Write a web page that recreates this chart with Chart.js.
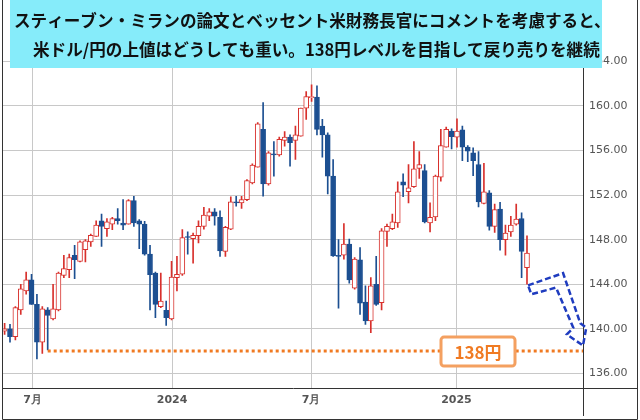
<!DOCTYPE html>
<html>
<head>
<meta charset="utf-8">
<script src="https://cdn.jsdelivr.net/npm/chart.js@4.4.1/dist/chart.umd.min.js"></script>
<style>
  html, body { margin: 0; padding: 0; background: #fff; }
  #wrap { width: 640px; height: 420px; position: relative; }
</style>
</head>
<body>
<div id="wrap"><canvas id="c" width="640" height="420"></canvas></div>
<script>
// === Données (週足 米ドル/円) ===
const opens  = [139.8,140.0,139.3,141.7,143.4,144.4,142.2,138.8,141.7,140.9,141.7,144.8,145.3,146.6,146.05,147.1,147.8,148.3,149.7,149.0,149.4,149.9,149.5,149.4,151.5,149.7,149.4,146.7,145.0,142.0,141.65,140.9,144.6,144.9,148.25,148.1,148.35,149.2,150.1,150.5,150.0,146.95,148.95,151.4,151.3,151.6,153.1,154.5,157.9,153.0,155.7,155.6,156.9,157.2,156.9,157.3,159.8,160.75,160.8,158.2,157.4,153.7,146.6,146.6,147.6,143.65,146.2,142.4,140.7,144.0,142.35,148.75,149.0,149.5,153.2,152.3,152.75,154.4,154.2,149.5,150.05,153.6,156.3,157.75,157.2,157.85,156.3,155.8,154.75,151.25,152.2,149.2,150.75,148.0,148.7,149.4,149.9,145.5];
const highs  = [140.5,140.4,142.0,144.0,145.1,144.9,143.1,142.0,141.9,144.0,145.1,146.6,146.7,147.5,147.9,148.0,148.5,149.7,150.3,149.9,150.0,150.8,151.6,151.6,151.9,149.8,149.65,147.5,145.1,145.0,142.5,146.05,146.5,148.9,148.7,148.6,149.7,150.9,150.8,150.8,150.6,149.2,151.85,151.9,151.9,153.4,154.8,158.5,160.3,155.9,156.8,157.2,157.7,157.4,158.2,159.8,161.3,161.9,161.8,158.8,157.6,155.2,148.0,149.45,148.05,146.4,147.3,143.85,144.6,146.5,149.0,149.4,150.3,153.2,153.9,154.75,156.8,155.9,154.75,151.3,153.8,157.9,158.1,157.95,158.85,158.2,156.45,156.25,155.9,154.85,152.4,151.2,151.35,149.3,150.1,151.2,150.4,148.35];
const lows   = [139.5,138.8,139.0,141.3,143.1,142.2,137.3,137.8,138.1,140.8,141.6,144.6,144.6,144.5,146.0,146.0,147.4,148.3,147.4,148.3,148.9,149.4,148.9,149.4,149.2,147.2,146.6,141.7,141.0,141.9,140.3,140.8,143.4,144.8,146.7,145.9,147.7,148.95,149.7,149.3,146.5,146.5,148.9,151.0,150.8,151.5,153.0,154.5,151.9,152.9,153.7,155.5,156.4,154.6,155.2,157.3,158.8,160.4,157.4,155.4,152.1,146.5,141.85,146.25,144.1,143.55,141.3,140.4,139.65,142.1,141.7,147.4,148.9,149.1,151.85,151.3,152.7,153.5,149.5,148.7,149.7,153.25,156.3,156.15,156.3,155.1,155.0,153.75,150.95,151.2,148.85,148.65,147.05,146.6,148.3,149.3,144.6,144.0];
const closes = [140.0,139.3,141.9,143.6,144.4,142.2,138.8,141.8,141.2,141.8,145.0,145.4,146.4,146.2,147.8,147.9,148.4,149.3,149.2,149.6,149.9,149.7,149.3,151.5,149.5,149.4,146.7,144.85,142.2,142.5,141.0,144.65,144.9,148.2,148.2,148.4,149.2,150.2,150.5,150.1,147.0,149.1,151.4,151.3,151.6,153.3,154.7,158.4,153.0,155.8,155.6,157.0,157.2,156.7,157.4,159.8,160.85,160.8,157.9,157.4,153.7,146.55,146.5,147.6,144.4,146.25,142.3,140.7,143.85,142.2,148.8,149.2,149.6,152.3,152.9,152.65,154.35,154.75,149.6,150.0,153.7,156.45,157.9,157.25,157.75,156.3,155.95,155.1,151.4,152.3,149.2,150.7,148.0,148.6,149.3,149.85,146.95,146.8];

// 目盛り (x は週番号)
const xTickPos    = [5.2, 31.1, 56.9, 83.9];
const xTickLabels = ['7月', '2024', '7月', '2025'];
const yTicks      = [136, 140, 144, 148, 152, 156, 160, 164];
const targetLevel = 138;
const targetStart = 8;
// 予想の矢印 (週番号, 価格)
const arrowPts = [[97.2,143.9],[103.7,145.0],[106.9,140.5],[108.0,140.1],[107.4,138.5],[104.4,139.5],[105.6,140.1],[102.4,143.7],[97.8,143.1]];

const titleLines = [
  'スティーブン・ミランの論文とベッセント米財務長官にコメントを考慮すると、',
  '米ドル/円の上値はどうしても重い。138円レベルを目指して戻り売りを継続'
];

const RED = '#d8302c', BLUE = '#1c4f91';
const up = opens.map((o, i) => closes[i] >= o);

const wicks = opens.map((o, i) => ({ x: i, y: [lows[i], highs[i]] }));
const bodies = opens.map((o, i) => ({ x: i, y: [Math.min(o, closes[i]), Math.max(o, closes[i])] }));

// === Décor: titre, ligne 138, flèche, cadre ===
const decor = {
  id: 'decor',
  afterDatasetsDraw(chart) {
    const { ctx, scales: { x, y } } = chart;
    ctx.save();
    // ligne 138
    const y138 = y.getPixelForValue(targetLevel);
    ctx.strokeStyle = '#f07a22';
    ctx.lineWidth = 3;
    ctx.setLineDash([3, 3]);
    ctx.beginPath();
    ctx.moveTo(x.getPixelForValue(targetStart), y138);
    ctx.lineTo(x.right, y138);
    ctx.stroke();
    ctx.setLineDash([]);
    // étiquette 138円
    ctx.fillStyle = '#fff';
    ctx.strokeStyle = '#f4a060';
    ctx.lineWidth = 3;
    ctx.beginPath();
    ctx.roundRect(441, y138 - 14, 74, 29, 3);
    ctx.fill();
    ctx.stroke();
    ctx.fillStyle = '#f07a22';
    ctx.font = 'bold 17px "Noto Sans CJK JP"';
    ctx.textAlign = 'center';
    ctx.textBaseline = 'middle';
    ctx.fillText(targetLevel + '円', 478, y138 + 1);
    // flèche
    ctx.strokeStyle = '#1f3cbf';
    ctx.lineWidth = 2.5;
    ctx.setLineDash([6, 3]);
    ctx.beginPath();
    arrowPts.forEach((p, k) => {
      const px = x.getPixelForValue(p[0]), py = y.getPixelForValue(p[1]);
      k ? ctx.lineTo(px, py) : ctx.moveTo(px, py);
    });
    ctx.closePath();
    ctx.stroke();
    ctx.setLineDash([]);
    // cadre
    ctx.strokeStyle = '#333';
    ctx.lineWidth = 1;
    ctx.beginPath();
    ctx.moveTo(2.5, 0); ctx.lineTo(2.5, 419.5); ctx.lineTo(637.5, 419.5); ctx.lineTo(637.5, 0);
    ctx.moveTo(x.right, y.bottom + 0.5); ctx.lineTo(637.5, y.bottom + 0.5);
    ctx.moveTo(x.right + 0.5, y.bottom); ctx.lineTo(x.right + 0.5, 416);
    ctx.stroke();
    // titre
    ctx.fillStyle = '#86ecfa';
    ctx.fillRect(10, 0, 592, 68);
    ctx.fillStyle = '#111';
    ctx.font = 'bold 16.6px "Noto Sans CJK JP"';
    ctx.textAlign = 'left';
    ctx.fillText(titleLines[0], 14, 21);
    ctx.fillText(titleLines[1], 33, 50);
    ctx.restore();
  }
};

new Chart(document.getElementById('c'), {
  type: 'bar',
  data: {
    datasets: [
      {
        data: bodies, grouped: false, order: 1,
        barThickness: 5, minBarLength: 1, borderWidth: 1, borderSkipped: false,
        backgroundColor: up.map(u => u ? '#fff' : BLUE),
        borderColor: up.map(u => u ? RED : BLUE)
      },
      {
        data: wicks, grouped: false, order: 2,
        barThickness: 1, borderWidth: 0,
        backgroundColor: up.map(u => u ? RED : BLUE)
      }
    ]
  },
  options: {
    responsive: false,
    animation: false,
    layout: { padding: { top: 2, left: 3, right: 3, bottom: 0 } },
    plugins: { legend: { display: false }, tooltip: { enabled: false } },
    scales: {
      x: {
        type: 'linear', min: -0.3, max: 107.4, offset: false,
        afterBuildTicks: s => { s.ticks = xTickPos.map(v => ({ value: v })); },
        afterFit: s => { s.height = 32; },
        ticks: {
          callback: (v, i) => xTickLabels[i],
          color: '#555', font: { family: 'DejaVu Sans', size: 11, weight: 'bold' }, maxRotation: 0, padding: 6
        },
        grid: { color: '#c8c8c8', drawTicks: false, offset: false },
        border: { color: '#333' }
      },
      y: {
        position: 'right', min: 134.69, max: 168.38,
        afterBuildTicks: s => { s.ticks = yTicks.map(v => ({ value: v })); },
        afterFit: s => { s.width = 54; },
        ticks: {
          callback: v => v.toFixed(2),
          color: '#555', font: { family: 'DejaVu Sans', size: 11 }, padding: 6
        },
        grid: { color: '#c8c8c8', drawTicks: false },
        border: { color: '#333' }
      }
    }
  },
  plugins: [decor]
});
</script>
</body>
</html>
